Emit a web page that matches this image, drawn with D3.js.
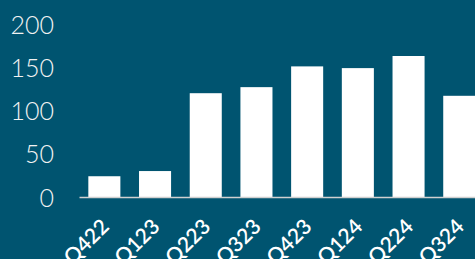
<!DOCTYPE html>
<html>
<head>
<meta charset="utf-8">
<script src="https://cdn.jsdelivr.net/npm/d3@7"></script>
<style>
  html, body { margin: 0; padding: 0; background: #005470; overflow: hidden; }
</style>
</head>
<body>
<div id="chart"></div>
<script>
const quarters = ['Q422', 'Q123', 'Q223', 'Q323', 'Q423', 'Q124', 'Q224', 'Q324'];
const values = [24, 30, 120, 127, 151, 149, 163, 117];
const yTicks = [0, 50, 100, 150, 200];

const width = 475, height = 259;
const bg = '#005470';

const svg = d3.select('#chart')
  .append('svg')
    .attr('width', width)
    .attr('height', height);

svg.append('rect')
  .attr('width', width)
  .attr('height', height)
  .attr('fill', bg);

// chart runs off the right edge in the original
const x = d3.scaleBand()
  .domain(quarters)
  .range([79, 484.6])
  .paddingInner(0.368)
  .paddingOuter(0.184);

const y = d3.scaleLinear()
  .domain([0, 200])
  .range([197, 24]);

// bars
svg.selectAll('.bar')
  .data(values)
  .join('rect')
    .attr('class', 'bar')
    .attr('x', (d, i) => x(quarters[i]))
    .attr('y', d => y(d))
    .attr('width', x.bandwidth())
    .attr('height', d => y(0) - y(d))
    .attr('fill', '#ffffff');

// y axis, labels only
const yAxis = svg.append('g')
  .attr('transform', 'translate(54,0)')
  .call(d3.axisLeft(y).tickValues(yTicks).tickSize(0).tickPadding(0));
yAxis.select('.domain').remove();
yAxis.selectAll('text')
  .attr('font-family', 'Lato, sans-serif')
  .attr('font-weight', 300)
  .attr('font-size', 25)
  .attr('fill', '#f2f2f2')
  .attr('dy', '0.36em');

// x axis
const xAxis = svg.append('g')
  .attr('transform', `translate(0,${y(0)})`)
  .call(d3.axisBottom(x).tickSize(0).tickPadding(0));
xAxis.select('.domain')
  .attr('stroke', '#d0d0d0')
  .attr('stroke-width', 1.5);
xAxis.selectAll('text')
  .attr('font-family', 'Lato, sans-serif')
  .attr('font-weight', 600)
  .attr('font-size', 21)
  .attr('fill', '#ffffff')
  .attr('text-anchor', 'end')
  .attr('dy', 0)
  .attr('transform', 'translate(6,31) rotate(-45)');
</script>
</body>
</html>
